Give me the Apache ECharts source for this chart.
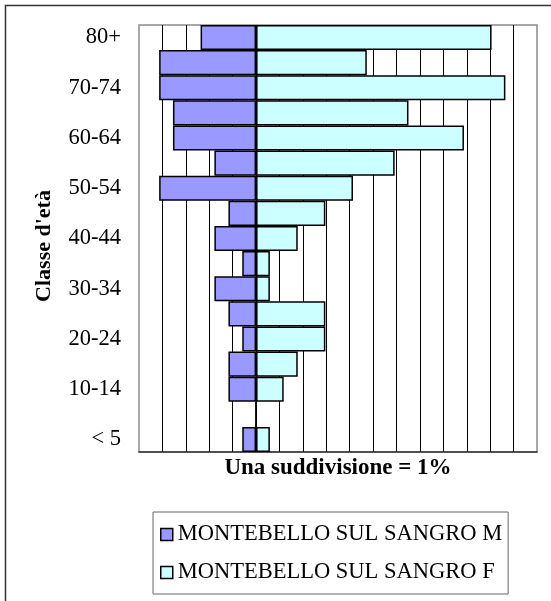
<!DOCTYPE html>
<html><head><meta charset="utf-8">
<script src="https://cdn.jsdelivr.net/npm/echarts@6/dist/echarts.min.js"></script>
<style>html,body{margin:0;padding:0;background:#fff}#c{width:551px;height:601px}</style>
</head><body><div id="c"></div>
<script>
var categories = ['< 5','5-9','10-14','15-19','20-24','25-29','30-34','35-39','40-44','45-49','50-54','55-59','60-64','65-69','70-74','75-79','80+'];
var maleValues = [0.59, 0, 1.18, 1.18, 0.59, 1.18, 1.78, 0.59, 1.78, 1.18, 4.14, 1.78, 3.55, 3.55, 4.14, 4.14, 2.37];
var femaleValues = [0.59, 0, 1.18, 1.78, 2.96, 2.96, 0.59, 0.59, 1.78, 2.96, 4.14, 5.92, 8.88, 6.51, 10.65, 4.73, 10.06];
var seriesNames = ['MONTEBELLO SUL SANGRO M', 'MONTEBELLO SUL SANGRO F'];
var xTitle = 'Una suddivisione = 1%';
var yTitle = "Classe d'età";

var FONT = "'Liberation Serif','Times New Roman',serif";
var chart = echarts.init(document.getElementById('c'), null, {renderer:'canvas'});
chart.setOption({
  animation: false,
  backgroundColor: '#fff',
  textStyle: {fontFamily: FONT, color: '#000'},
  graphic: [{
    type: 'rect', z: 100, silent: true,
    shape: {x: 5.5, y: 5.5, width: 700, height: 700},
    style: {fill: 'none', stroke: '#333', lineWidth: 1.5}
  }],
  grid: {left: 139, top: 25, width: 398, height: 427, show: true, borderColor: '#8c8c8c', borderWidth: 1.5, backgroundColor: 'transparent'},
  legend: {
    orient: 'vertical', left: 153, top: 512,
    itemWidth: 12, itemHeight: 12, itemGap: 15,
    padding: [11, 6, 10, 7],
    borderColor: '#666', borderWidth: 1,
    icon: 'rect',
    itemStyle: {borderColor: '#000', borderWidth: 1.5},
    textStyle: {fontFamily: FONT, fontSize: 22.5, color: '#000'},
    data: seriesNames
  },
  xAxis: {
    type: 'value', min: -5, max: 12, interval: 1,
    name: xTitle, nameLocation: 'middle', nameGap: 5,
    nameTextStyle: {fontFamily: FONT, fontSize: 23, fontWeight: 'bold', color: '#000', verticalAlign: 'top'},
    axisLabel: {show: false},
    axisTick: {show: false},
    axisLine: {show: true, lineStyle: {color: '#333', width: 1.5}},
    splitLine: {show: true, showMinLine: false, showMaxLine: false, lineStyle: {color: '#000', width: 1}}
  },
  yAxis: {
    type: 'category', data: categories,
    name: yTitle, nameLocation: 'middle', nameGap: 84, nameRotate: 90,
    nameTextStyle: {fontFamily: FONT, fontSize: 22, fontWeight: 'bold', color: '#000', padding: [0, 15, 0, 0]},
    axisLine: {show: false},
    axisTick: {show: false},
    axisLabel: {interval: 1, margin: 18, fontFamily: FONT, fontSize: 22.5, color: '#000'},
    splitLine: {show: false}
  },
  series: [{
    name: seriesNames[0], type: 'bar',
    data: maleValues.map(function(v){ return -v; }),
    barWidth: '100%', barGap: '-100%',
    itemStyle: {color: '#9999ff', borderColor: '#000', borderWidth: 1.5}
  }, {
    name: seriesNames[1], type: 'bar',
    data: femaleValues,
    barWidth: '100%', barGap: '-100%',
    itemStyle: {color: '#ccffff', borderColor: '#000', borderWidth: 1.5}
  }]
});
</script></body></html>
